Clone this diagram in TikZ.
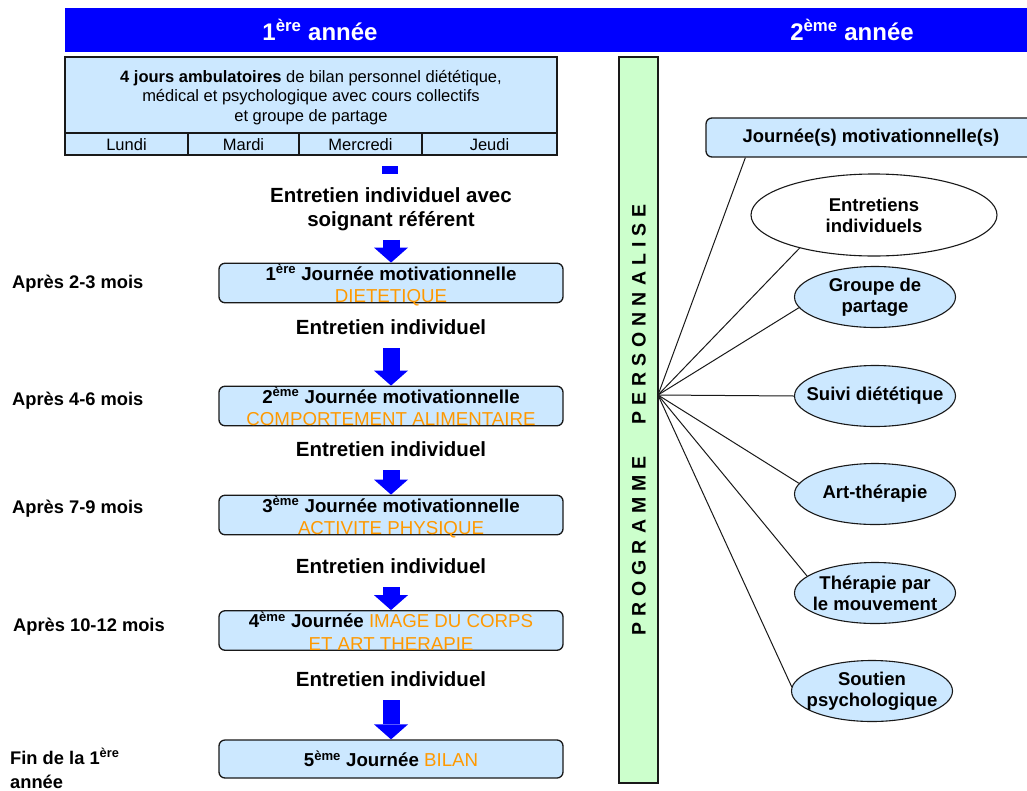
\documentclass[tikz,border=0pt]{standalone}
\usepackage{fontspec}
\setmainfont{Liberation Sans}
\usetikzlibrary{positioning,shapes.geometric,arrows.meta}

\definecolor{hdrblue}{RGB}{0,0,255}
\definecolor{boxblue}{RGB}{204,232,255}
\definecolor{proggreen}{RGB}{204,255,204}
\definecolor{orng}{RGB}{255,153,0}
\newcommand{\g}{\hspace{6pt}}
\newcommand{\orange}[1]{\textcolor{orng}{\mdseries #1}}

\begin{document}
\begin{tikzpicture}
 [x=1pt, y=-1pt,
  bande/.style={rectangle,fill=hdrblue,inner sep=0pt,minimum height=44},
  titre/.style={text=white,font=\fontsize{24}{28}\selectfont\bfseries},
  cadre/.style={rectangle,draw=black!90,line width=1.3pt,fill=boxblue,inner sep=0pt,outer sep=0pt,align=center},
  jourcase/.style={cadre,minimum height=22,text height=17.8pt,text depth=4.2pt,font=\fontsize{16.5}{19}\selectfont},
  jour/.style={rectangle,rounded corners=6pt,draw=black!90,line width=1.3pt,fill=boxblue,minimum width=344,minimum height=38,inner sep=0pt,align=center,font=\fontsize{18.7}{22.5}\selectfont\bfseries},
  jour2/.style={jour,text height=39.5pt,text depth=-1.5pt},
  etape/.style={align=center,inner sep=1pt,font=\fontsize{20.5}{24}\selectfont\bfseries},
  delai/.style={anchor=west,align=left,inner sep=0pt,font=\fontsize{18.3}{24}\selectfont\bfseries},
  fleche/.style={draw=hdrblue,line width=17pt,-{Triangle[width=34pt,length=15pt,line width=0pt]},shorten <=12.5pt},
  atelier/.style={ellipse,draw=black!90,line width=1.1pt,fill=boxblue,minimum width=161,minimum height=61,inner sep=0pt},
  atxt/.style={align=center,inner sep=0pt,font=\fontsize{18.5}{21}\selectfont\bfseries},
  lien/.style={draw=black!90,line width=1pt}]
 \useasboundingbox (0,0) rectangle (1027,790);

 % en-tete
 \node[bande, minimum width=962] (bar) at (546,30) {};
 \node[titre] (an1) at (320,30) {1\textsuperscript{ère} année};
 \node[titre] (an2) at (852,30) {2\textsuperscript{ème} année};

 % 1ere annee
 \node[cadre, minimum width=492, minimum height=76, text height=64pt, text depth=12pt, font=\fontsize{16.5}{19.5}\selectfont] (amb) at (311,95)
  {\textbf{4 jours ambulatoires} de bilan personnel diététique,\\médical et psychologique avec cours collectifs\\et groupe de partage};
 \node[jourcase, minimum width=123, below right=0pt of amb.south west] (lun) {Lundi};
 \node[jourcase, minimum width=111, right=0pt of lun] (mar) {Mardi};
 \node[jourcase, minimum width=123, right=0pt of mar] (mer) {Mercredi};
 \node[jourcase, minimum width=135, right=0pt of mer] (jeu) {Jeudi};
 \fill[hdrblue] (382,166) rectangle (398,174);

 \node[etape] (e0) at (391,209) {Entretien individuel avec\\soignant référent};
 \node[jour2] (j1) at (391,283) {1\textsuperscript{ère} Journée motivationnelle\\\orange{DIETETIQUE}};
 \node[etape] (e1) at (391,327) {Entretien individuel};
 \node[jour2] (j2) at (391,406) {2\textsuperscript{ème} Journée motivationnelle\\\orange{COMPORTEMENT ALIMENTAIRE}};
 \node[etape] (e2) at (391,449) {Entretien individuel};
 \node[jour2] (j3) at (391,515) {3\textsuperscript{ème} Journée motivationnelle\\\orange{ACTIVITE PHYSIQUE}};
 \node[etape] (e3) at (391,566) {Entretien individuel};
 \node[jour2] (j4) at (391,630.5) {4\textsuperscript{ème} Journée \orange{IMAGE DU CORPS}\\\orange{ET ART THERAPIE}};
 \node[etape] (e4) at (391,679) {Entretien individuel};
 \node[jour] (j5) at (391,759) {5\textsuperscript{ème} Journée \orange{BILAN}};
 \draw[fleche, shorten <=8pt] (e0) -- (j1);
 \foreach \from/\to in {e1/j2, e2/j3, e3/j4, e4/j5}
 \draw[fleche] (\from) -- (\to);

 \node[delai] (d1) at (12,284) {Après 2-3 mois};
 \node[delai] (d2) at (12,401) {Après 4-6 mois};
 \node[delai] (d3) at (12,509) {Après 7-9 mois};
 \node[delai] (d4) at (13,627) {Après 10-12 mois};
 \node[delai] (d5) at (10,768.5) {Fin de la 1\textsuperscript{ère}\\année};

 % 2eme annee
 \node[cadre, fill=proggreen, minimum width=39, minimum height=726] (prog) at (638.5,420) {};
 \node[rotate=90, inner sep=0pt, font=\fontsize{19.5}{22}\selectfont\bfseries] (progtxt) at (639,420)
  {P\g R\g O\g G\g R\g A\g M\g M\g E\hspace{32pt}P\g E\g R\g S\g O\g N\g N\g A\g L\g I\g S\g E};
 \coordinate (hub) at (658,395);
 \node[jour, minimum width=330, minimum height=39, font=\fontsize{18.4}{22}\selectfont\bfseries] (jm) at (871,137.5) {Journée(s) motivationnelle(s)};
 \node[atelier, fill=white, minimum width=246, minimum height=82, label={[atxt]center:Entretiens\\individuels}] (ent) at (874,215) {};
 \node[atelier, label={[atxt]center:Groupe de\\partage}] (grp) at (875,297) {};
 \node[atelier, label={[atxt]center:Suivi diététique}] (sui) at (875,396) {};
 \node[atelier, label={[atxt]center:Art-thérapie}] (art) at (875,494) {};
 \node[atelier, label={[atxt]center:Thérapie par\\le mouvement}] (thp) at (875,593) {};
 \node[atelier, label={[atxt]center:Soutien\\psychologique}] (sou) at (872,691) {};
 \draw[lien] (hub) -- ([xshift=40pt]jm.south west);
 \foreach \to/\ang in {ent/204, grp/188, sui/180, art/172, thp/166, sou/177}
 \draw[lien] (hub) -- (\to.\ang);
\end{tikzpicture}
\end{document}
